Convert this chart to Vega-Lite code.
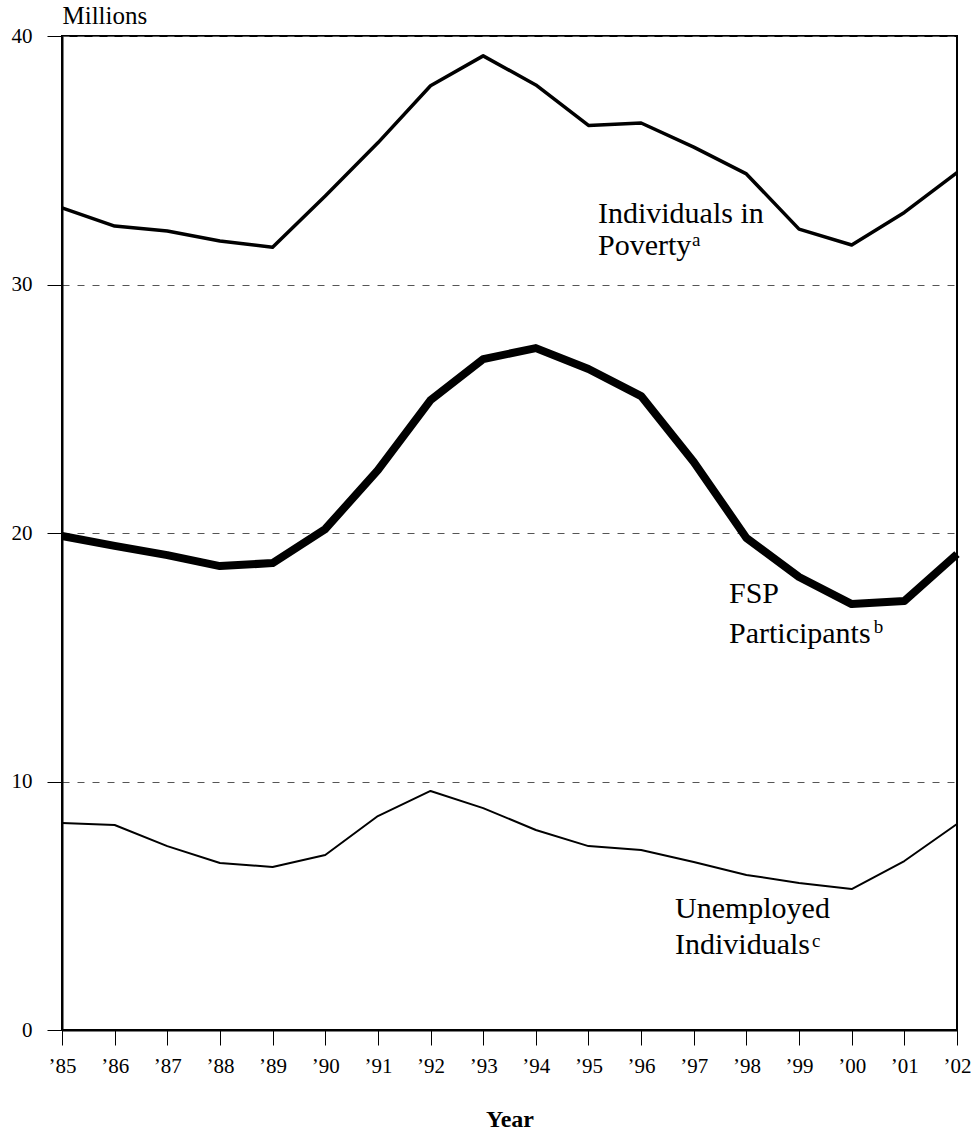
{
  "$schema": "https://vega.github.io/schema/vega-lite/v6.json",
  "width": 895,
  "height": 994,
  "autosize": "none",
  "padding": {"left": 62, "top": 36, "right": 20, "bottom": 103},
  "background": "white",
  "config": {
    "font": "Liberation Serif",
    "view": {"stroke": "black", "strokeWidth": 2}
  },
  "datasets": {
    "series": [
      {"year": 1985, "value": 33.08, "series": "Individuals in Poverty"},
      {"year": 1986, "value": 32.35, "series": "Individuals in Poverty"},
      {"year": 1987, "value": 32.15, "series": "Individuals in Poverty"},
      {"year": 1988, "value": 31.75, "series": "Individuals in Poverty"},
      {"year": 1989, "value": 31.5, "series": "Individuals in Poverty"},
      {"year": 1990, "value": 33.56, "series": "Individuals in Poverty"},
      {"year": 1991, "value": 35.7, "series": "Individuals in Poverty"},
      {"year": 1992, "value": 38.0, "series": "Individuals in Poverty"},
      {"year": 1993, "value": 39.2, "series": "Individuals in Poverty"},
      {"year": 1994, "value": 38.03, "series": "Individuals in Poverty"},
      {"year": 1995, "value": 36.4, "series": "Individuals in Poverty"},
      {"year": 1996, "value": 36.5, "series": "Individuals in Poverty"},
      {"year": 1997, "value": 35.53, "series": "Individuals in Poverty"},
      {"year": 1998, "value": 34.45, "series": "Individuals in Poverty"},
      {"year": 1999, "value": 32.23, "series": "Individuals in Poverty"},
      {"year": 2000, "value": 31.59, "series": "Individuals in Poverty"},
      {"year": 2001, "value": 32.9, "series": "Individuals in Poverty"},
      {"year": 2002, "value": 34.5, "series": "Individuals in Poverty"},
      {"year": 1985, "value": 19.88, "series": "FSP Participants"},
      {"year": 1986, "value": 19.48, "series": "FSP Participants"},
      {"year": 1987, "value": 19.11, "series": "FSP Participants"},
      {"year": 1988, "value": 18.67, "series": "FSP Participants"},
      {"year": 1989, "value": 18.79, "series": "FSP Participants"},
      {"year": 1990, "value": 20.16, "series": "FSP Participants"},
      {"year": 1991, "value": 22.53, "series": "FSP Participants"},
      {"year": 1992, "value": 25.35, "series": "FSP Participants"},
      {"year": 1993, "value": 27.0, "series": "FSP Participants"},
      {"year": 1994, "value": 27.44, "series": "FSP Participants"},
      {"year": 1995, "value": 26.6, "series": "FSP Participants"},
      {"year": 1996, "value": 25.51, "series": "FSP Participants"},
      {"year": 1997, "value": 22.86, "series": "FSP Participants"},
      {"year": 1998, "value": 19.8, "series": "FSP Participants"},
      {"year": 1999, "value": 18.23, "series": "FSP Participants"},
      {"year": 2000, "value": 17.14, "series": "FSP Participants"},
      {"year": 2001, "value": 17.26, "series": "FSP Participants"},
      {"year": 2002, "value": 19.15, "series": "FSP Participants"},
      {"year": 1985, "value": 8.33, "series": "Unemployed Individuals"},
      {"year": 1986, "value": 8.25, "series": "Unemployed Individuals"},
      {"year": 1987, "value": 7.4, "series": "Unemployed Individuals"},
      {"year": 1988, "value": 6.72, "series": "Unemployed Individuals"},
      {"year": 1989, "value": 6.56, "series": "Unemployed Individuals"},
      {"year": 1990, "value": 7.04, "series": "Unemployed Individuals"},
      {"year": 1991, "value": 8.61, "series": "Unemployed Individuals"},
      {"year": 1992, "value": 9.62, "series": "Unemployed Individuals"},
      {"year": 1993, "value": 8.93, "series": "Unemployed Individuals"},
      {"year": 1994, "value": 8.05, "series": "Unemployed Individuals"},
      {"year": 1995, "value": 7.4, "series": "Unemployed Individuals"},
      {"year": 1996, "value": 7.24, "series": "Unemployed Individuals"},
      {"year": 1997, "value": 6.76, "series": "Unemployed Individuals"},
      {"year": 1998, "value": 6.24, "series": "Unemployed Individuals"},
      {"year": 1999, "value": 5.92, "series": "Unemployed Individuals"},
      {"year": 2000, "value": 5.67, "series": "Unemployed Individuals"},
      {"year": 2001, "value": 6.8, "series": "Unemployed Individuals"},
      {"year": 2002, "value": 8.29, "series": "Unemployed Individuals"}
    ],
    "labels": [
      {"year": 1995.18, "value": 32.49, "text": "Individuals in", "kind": "main"},
      {"year": 1995.18, "value": 31.19, "text": "Poverty", "kind": "main"},
      {"year": 1996.966, "value": 31.55, "text": "a", "kind": "sup"},
      {"year": 1997.669, "value": 17.18, "text": "FSP", "kind": "main"},
      {"year": 1997.669, "value": 15.57, "text": "Participants", "kind": "main"},
      {"year": 2000.42, "value": 15.98, "text": "b", "kind": "sup"},
      {"year": 1996.643, "value": 4.51, "text": "Unemployed", "kind": "main"},
      {"year": 1996.643, "value": 3.06, "text": "Individuals", "kind": "main"},
      {"year": 1999.245, "value": 3.34, "text": "c", "kind": "sup"}
    ]
  },
  "encoding": {
    "x": {
      "field": "year",
      "type": "quantitative",
      "scale": {"domain": [1985, 2002], "nice": false, "zero": false},
      "axis": {
        "values": [1985, 1986, 1987, 1988, 1989, 1990, 1991, 1992, 1993, 1994, 1995, 1996, 1997, 1998, 1999, 2000, 2001, 2002],
        "labelExpr": "'’' + substring(toString(datum.value), 2)",
        "grid": false,
        "domainColor": "black",
        "domainWidth": 2,
        "tickColor": "black",
        "tickWidth": 1,
        "tickSize": 15,
        "labelFont": "Liberation Serif",
        "labelFontSize": 21,
        "labelColor": "black",
        "labelPadding": 10,
        "labelFlush": false,
        "labelOverlap": false,
        "title": "Year",
        "titleFont": "Liberation Serif",
        "titleFontSize": 24,
        "titleFontWeight": "bold",
        "titleColor": "black",
        "titleBaseline": "alphabetic",
        "titleY": 96
      }
    },
    "y": {
      "field": "value",
      "type": "quantitative",
      "scale": {"domain": [0, 40], "nice": false},
      "axis": {
        "values": [0, 10, 20, 30, 40],
        "grid": true,
        "gridDash": [7, 8],
        "gridColor": "#555555",
        "gridWidth": 1,
        "domainColor": "black",
        "domainWidth": 2,
        "tickColor": "black",
        "tickWidth": 1,
        "tickSize": 15,
        "labelFont": "Liberation Serif",
        "labelFontSize": 21,
        "labelColor": "black",
        "labelPadding": 15,
        "labelFlush": false,
        "title": "Millions",
        "titleFont": "Liberation Serif",
        "titleFontSize": 25,
        "titleFontWeight": "normal",
        "titleColor": "black",
        "titleAngle": 0,
        "titleAlign": "left",
        "titleBaseline": "alphabetic",
        "titleX": 0,
        "titleY": -13
      }
    }
  },
  "layer": [
    {
      "data": {"name": "series"},
      "transform": [{"filter": "datum.series === 'Individuals in Poverty'"}],
      "mark": {"type": "line", "color": "black", "strokeWidth": 3.5, "strokeJoin": "round"}
    },
    {
      "data": {"name": "series"},
      "transform": [{"filter": "datum.series === 'FSP Participants'"}],
      "mark": {"type": "line", "color": "black", "strokeWidth": 8, "strokeJoin": "round"}
    },
    {
      "data": {"name": "series"},
      "transform": [{"filter": "datum.series === 'Unemployed Individuals'"}],
      "mark": {"type": "line", "color": "black", "strokeWidth": 2, "strokeJoin": "round"}
    },
    {
      "data": {"name": "labels"},
      "transform": [{"filter": "datum.kind === 'main'"}],
      "mark": {"type": "text", "align": "left", "baseline": "alphabetic", "fontSize": 30, "font": "Liberation Serif", "color": "black"},
      "encoding": {"text": {"field": "text"}}
    },
    {
      "data": {"name": "labels"},
      "transform": [{"filter": "datum.kind === 'sup'"}],
      "mark": {"type": "text", "align": "left", "baseline": "alphabetic", "fontSize": 19, "font": "Liberation Serif", "color": "black"},
      "encoding": {"text": {"field": "text"}}
    }
  ]
}
